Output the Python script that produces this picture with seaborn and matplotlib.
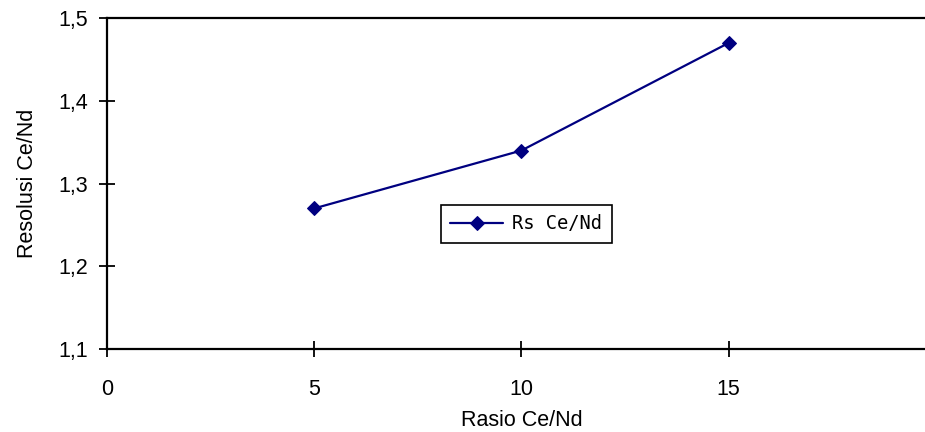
import seaborn as sns
import matplotlib
matplotlib.use("Agg")
import matplotlib.pyplot as plt
import pandas as pd
from matplotlib.ticker import FuncFormatter

# data
rasio = [5, 10, 15]
resolusi = [1.27, 1.34, 1.47]
x_ticks = [0, 5, 10, 15]
y_ticks = [1.1, 1.2, 1.3, 1.4, 1.5]
series_name = "Rs Ce/Nd"

df = pd.DataFrame({"Rasio": rasio, "Rs": resolusi})

sns.set_style("white")
plt.rcParams["font.family"] = ["Liberation Sans", "DejaVu Sans"]
plt.rcParams["text.color"] = "black"
plt.rcParams["axes.labelcolor"] = "black"

fig = plt.figure(figsize=(9.25, 4.32), dpi=100)
ax = fig.add_axes([0.1157, 0.192, 0.896, 0.766])

sns.lineplot(data=df, x="Rasio", y="Rs", ax=ax, color="#000080", linewidth=1.6,
             marker="D", markersize=7, markeredgecolor="#000080", label=series_name)

ax.set_xlim(0, 20)
ax.set_ylim(1.1, 1.5)
ax.set_xticks(x_ticks)
ax.set_yticks(y_ticks)
ax.yaxis.set_major_formatter(FuncFormatter(lambda v, p: f"{v:.1f}".replace(".", ",")))

for s in ["left", "bottom", "top"]:
    ax.spines[s].set_color("black")
    ax.spines[s].set_linewidth(1.6)
ax.spines["right"].set_visible(False)

ax.tick_params(axis="both", direction="inout", length=11, width=1.3, color="black",
               labelsize=15.5, labelcolor="black", bottom=True, left=True)
ax.tick_params(axis="x", pad=16)
ax.tick_params(axis="y", pad=8)

ax.set_xlabel("Rasio Ce/Nd", fontsize=15.5, labelpad=7, color="black")
ax.set_ylabel("Resolusi Ce/Nd", fontsize=15.5, labelpad=15, color="black")

leg = ax.legend(loc="center", bbox_to_anchor=(0.569, 0.4815), bbox_transform=fig.transFigure,
                prop={"family": "DejaVu Sans Mono", "size": 13.5}, frameon=True,
                fancybox=False, handlelength=2.8, borderpad=0.5, handletextpad=0.5)
leg.get_frame().set_edgecolor("black")
leg.get_frame().set_linewidth(1.2)
leg.get_frame().set_alpha(1)
for t in leg.get_texts():
    t.set_color("black")

fig.savefig("out.png", dpi=100)
